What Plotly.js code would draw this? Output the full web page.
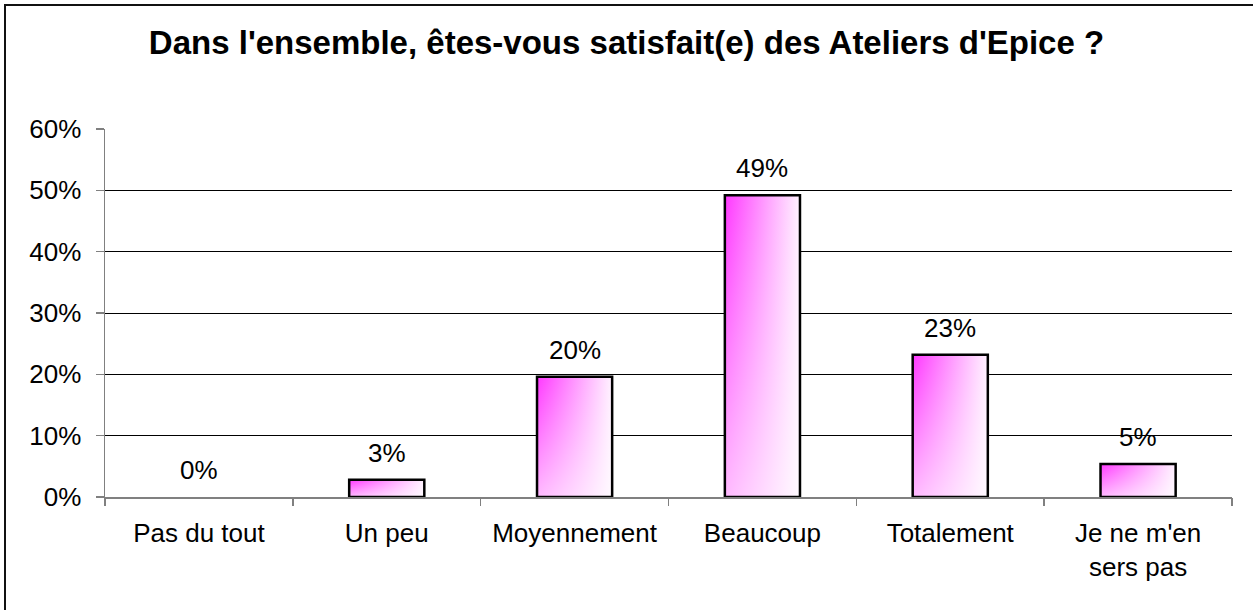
<!DOCTYPE html>
<html>
<head>
<meta charset="utf-8">
<script src="https://cdn.plot.ly/plotly-3.0.1.min.js"></script>
<style>
    body { margin: 0; overflow: hidden; background: #fff; }
    #plotId { width: 1253px; height: 610px; }
    #frame { position: absolute; left: 4px; top: 4px; width: 1400px; height: 800px;
             border-left: 2px solid #111; border-top: 2px solid #111; pointer-events: none; }
</style>
</head>
<body>
<div id="plotId"></div>
<div id="frame"></div>
<script>
const categories = ['Pas du tout', 'Un peu', 'Moyennement', 'Beaucoup', 'Totalement', "Je ne m'en<br>sers pas"];
const values = [0, 2.8, 19.6, 49.2, 23.2, 5.4];
const valueLabels = ['0%', '3%', '20%', '49%', '23%', '5%'];

const font = 'Liberation Sans, Arial, sans-serif';
const halfWidth = 0.2;

// plotly bars have no gradient fill, so each bar is a closed scatter shape with fillgradient
let traces = [];
values.forEach((v, i) => {
    if (v <= 0) return;
    const xs = [i - halfWidth, i - halfWidth, i + halfWidth, i + halfWidth, i - halfWidth];
    const ys = [0, v, v, 0, 0];
    traces.push({
        x: xs, y: ys, type: 'scatter', mode: 'lines', fill: 'toself',
        line: { width: 0 },
        fillgradient: { type: 'horizontal', colorscale: [[0, '#ff38ff'], [1, '#fff2ff']] },
        hoverinfo: 'none', showlegend: false
    });
    // lighten the lower part to get the diagonal look
    traces.push({
        x: xs, y: ys, type: 'scatter', mode: 'lines', fill: 'toself',
        line: { color: '#000', width: 2.5 },
        fillgradient: { type: 'vertical', colorscale: [[0, 'rgba(255,255,255,0.65)'], [1, 'rgba(255,255,255,0)']] },
        hoverinfo: 'none', showlegend: false
    });
});

const annotations = values.map((v, i) => ({
    x: i, y: v, xref: 'x', yref: 'y', text: valueLabels[i], showarrow: false,
    yanchor: 'middle', yshift: 27, font: { family: font, size: 26, color: '#000' }
}));

const layout = {
    width: 1253, height: 610,
    margin: { l: 105, r: 21, t: 129, b: 113 },
    paper_bgcolor: '#fff', plot_bgcolor: '#fff',
    showlegend: false,
    title: {
        text: "<b>Dans l'ensemble, êtes-vous satisfait(e) des Ateliers d'Epice ?</b>",
        font: { family: font, size: 33, color: '#000' },
        x: 0.5, xref: 'container', y: 0.93, yref: 'container', yanchor: 'middle'
    },
    xaxis: {
        range: [-0.5, 5.5], tickvals: categories.map((c, i) => i), ticktext: categories,
        ticks: '', showgrid: false, zeroline: false, showline: true, linecolor: '#808080', linewidth: 1.5,
        ticklabelstandoff: 12,
        tickfont: { family: font, size: 26, color: '#000' }, fixedrange: true
    },
    xaxis2: {
        overlaying: 'x', anchor: 'y', side: 'bottom', range: [-0.5, 5.5],
        tickvals: categories.map((c, i) => i - 0.5).concat([categories.length - 0.5]),
        ticks: 'outside', ticklen: 8, tickcolor: '#808080', tickwidth: 1.5,
        showticklabels: false, showgrid: false, zeroline: false, showline: false, fixedrange: true
    },
    yaxis: {
        range: [0, 60], dtick: 10, ticksuffix: '%',
        showgrid: true, gridcolor: '#000', gridwidth: 1, zeroline: false,
        showline: true, linecolor: '#808080', linewidth: 1.5,
        ticks: 'outside', ticklen: 8, tickcolor: '#808080', tickwidth: 1.5,
        ticklabelstandoff: 9,
        tickfont: { family: font, size: 26, color: '#000' }, fixedrange: true
    },
    annotations
};

// dummy trace so that xaxis2 is drawn
traces.push({ x: [0], y: [0], xaxis: 'x2', type: 'scatter', mode: 'none', hoverinfo: 'none', showlegend: false });

Plotly.newPlot('plotId', traces, layout, { displayModeBar: false, staticPlot: true });
</script>
</body>
</html>
